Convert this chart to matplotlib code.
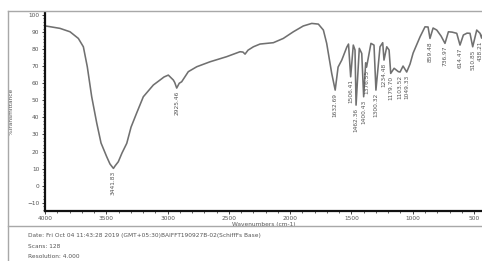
import matplotlib
matplotlib.use("Agg")
import matplotlib.pyplot as plt
from matplotlib.lines import Line2D
from matplotlib.ticker import MultipleLocator

# spectrum trace: wavenumber (cm-1) and %T
wavenumber = [3986, 3878, 3796, 3728, 3687, 3655, 3619, 3578, 3543, 3497, 3470,
              3441.83, 3429, 3402, 3372, 3333, 3298, 3252, 3198, 3116, 3062, 3029,
              2994, 2953, 2942, 2925.46, 2905, 2885, 2831, 2762, 2654, 2518, 2409,
              2385, 2368, 2344, 2300, 2246, 2137, 2056, 1974, 1893, 1824, 1770,
              1729, 1702, 1661, 1632.69, 1609, 1579, 1538, 1524, 1506.41, 1485,
              1471, 1462.36, 1436, 1416, 1400.43, 1384, 1376.55, 1341, 1316,
              1300.32, 1267, 1245, 1234.48, 1212, 1193, 1179.70, 1152, 1117,
              1103.52, 1079, 1049.33, 1022, 997, 940, 900, 875, 859.48, 834, 804,
              769, 736.97, 709, 679, 641, 614.47, 587, 557, 533, 510.85, 478, 451,
              438.21, 426]
transmittance = [93.5, 92.2, 90.2, 86.3, 81.4, 69.7, 52.1, 36.7, 25.0, 17.0, 12.7,
                 10.1, 11.5, 14.0, 19.1, 24.8, 34.3, 42.6, 52.1, 59.0, 61.9, 63.7,
                 64.8, 61.9, 60.5, 57.2, 60.0, 60.9, 66.8, 69.7, 72.6, 75.6, 78.5,
                 78.3, 77.1, 79.4, 81.4, 83.0, 83.8, 86.3, 90.2, 93.6, 95.1, 94.7,
                 91.2, 83.4, 65.8, 56.0, 69.5, 73.6, 81.2, 83.0, 63.8, 82.4,
                 79.5, 47.2, 80.5, 77.5, 52.1, 72.0, 69.5, 83.4, 82.4,
                 56.0, 81.4, 83.8, 73.6, 81.4, 79.5, 65.8, 68.8, 66.8,
                 66.6, 70.1, 66.6, 71.3, 77.7, 87.3, 93.1, 93.0, 86.3, 92.4, 91.2,
                 87.7, 83.4, 90.2, 90.0, 89.3, 82.4, 88.3, 89.4, 89.3, 81.4, 91.2, 89.3,
                 86.5, 90.0]

# labelled peaks
peak_labels = ["3441.83", "2925.46", "1632.69", "1506.41", "1462.36", "1400.43",
               "1376.55", "1300.32", "1234.48", "1179.70", "1103.52", "1049.33",
               "859.48", "736.97", "614.47", "510.85", "438.21"]

info_lines = ["Date: Fri Oct 04 11:43:28 2019 (GMT+05:30)BAIFFT190927B-02(SchiffFs Base)",
              "Scans: 128",
              "Resolution: 4.000"]

W, H = 482, 261
fig = plt.figure(figsize=(W / 100, H / 100), dpi=100)
fig.patch.set_facecolor("white")

ax = fig.add_axes([45 / W, 1 - 210.7 / H, 1 - 45 / W, (210.7 - 12.5) / H])
ax.plot(wavenumber, transmittance, color="#707070", lw=1.15)
ax.set_xlim(4000, 435)
ax.set_ylim(-14.7, 101.5)

txt_color = "#555555"
fs = 4.2

# peak labels, vertical text under each dip
lookup = dict(zip(wavenumber, transmittance))
for lab in peak_labels:
    wn = float(lab)
    # keep the last label inside the picture edge
    ax.text(max(wn, 447), lookup[wn] - 1.5, lab, rotation=90, ha="center", va="top",
            fontsize=fs, color=txt_color, clip_on=False)

for s in ["top", "right"]:
    ax.spines[s].set_visible(False)
for s in ["left", "bottom"]:
    ax.spines[s].set_linewidth(1.6)
    ax.spines[s].set_color("#111111")

ax.xaxis.set_major_locator(MultipleLocator(500))
ax.xaxis.set_minor_locator(MultipleLocator(100))
ax.yaxis.set_major_locator(MultipleLocator(10))
ax.yaxis.set_minor_locator(MultipleLocator(2))
ax.tick_params(axis="both", which="major", direction="out", length=2.5, width=0.6,
               labelsize=fs, labelcolor=txt_color, pad=1.5, color="#222222")
ax.tick_params(axis="both", which="minor", direction="out", length=1.3, width=0.5,
               color="#222222")
ax.set_xlabel("Wavenumbers (cm-1)", fontsize=fs, color=txt_color, labelpad=0.5)
ax.set_ylabel("%Transmittance", fontsize=fs, color=txt_color, labelpad=10)

# page frame lines
frame_color = "#a8a8a8"
fig.add_artist(Line2D([8 / W, 8 / W], [0, 1 - 11 / H], transform=fig.transFigure,
                      color=frame_color, lw=1.0))
fig.add_artist(Line2D([8 / W, 1], [1 - 11 / H, 1 - 11 / H], transform=fig.transFigure,
                      color=frame_color, lw=1.0))
fig.add_artist(Line2D([8 / W, 1], [1 - 226 / H, 1 - 226 / H], transform=fig.transFigure,
                      color=frame_color, lw=1.0))

for i, line in enumerate(info_lines):
    fig.text(28 / W, 1 - (235 + 11 * i) / H, line, fontsize=fs, color=txt_color,
             ha="left", va="center")

fig.savefig("out.png", dpi=100, facecolor="white")
